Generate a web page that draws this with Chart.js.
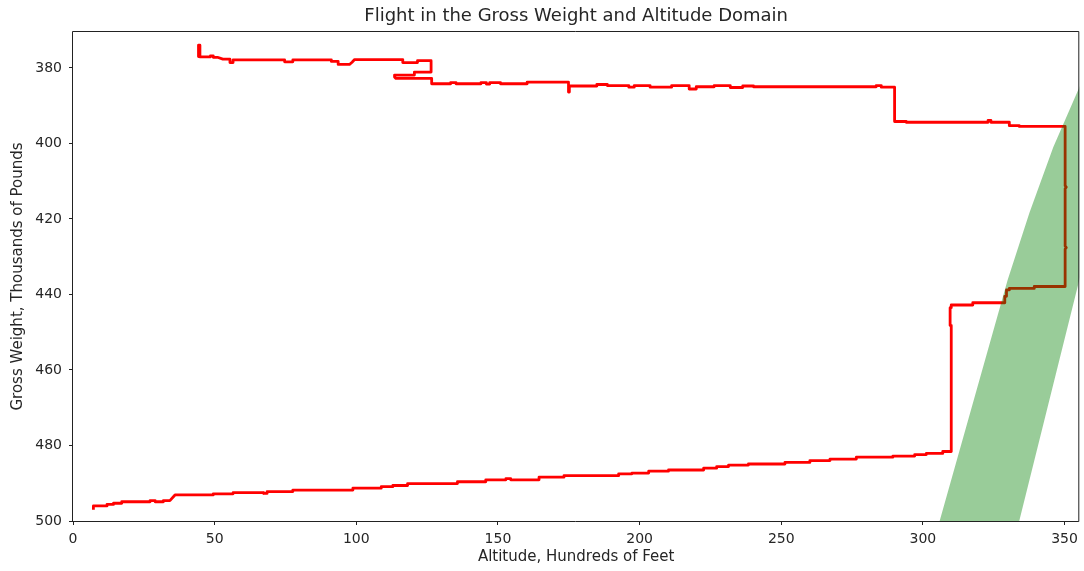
<!DOCTYPE html>
<html>
<head>
<meta charset="utf-8">
<script src="https://cdn.jsdelivr.net/npm/chart.js@4.4.1/dist/chart.umd.min.js"></script>
<style>
  html, body { margin: 0; padding: 0; background: #fff; }
  #wrap { width: 1084px; height: 571px; }
</style>
</head>
<body>
<div id="wrap"><canvas id="flight-chart"></canvas></div>
<script>
// --- Data ---
const xTicks = [0, 50, 100, 150, 200, 250, 300, 350];
const yTicks = [380, 400, 420, 440, 460, 480, 500];

// flight path: altitude (hundreds of feet) and gross weight (thousands of lb)
const pathX = [
  7.2, 7.2, 12.0, 12.0, 14.3, 14.3, 17.2, 17.2, 27.2, 27.2, 29.0, 29.0, 31.9, 31.9, 34.2, 36.0,
  49.5, 49.5, 56.5, 56.5, 67.1, 67.3, 68.5, 68.5, 77.6, 77.6, 98.8, 98.8, 108.8, 108.8, 112.9, 112.9,
  118.1, 118.1, 135.7, 135.7, 145.7, 145.7, 152.8, 152.8, 154.5, 154.5, 164.5, 164.5, 173.3, 173.3,
  192.6, 192.6, 197.3, 197.3, 203.2, 203.2, 210.2, 210.2, 222.6, 222.6, 227.2, 227.2, 231.4, 231.4,
  238.4, 238.4, 251.3, 251.3, 260.1, 260.1, 267.2, 267.2, 276.5, 276.5, 289.4, 289.4, 297.1, 297.1,
  301.2, 301.2, 307.0, 307.0, 310.0,
  310.0, 309.6, 309.6, 310.0, 310.0, 317.6, 317.6, 328.9, 328.9, 329.5, 329.5, 330.5, 330.5, 339.3,
  339.3, 350.2, 350.2, 350.6, 350.2, 350.2, 350.6, 350.2, 350.2,
  334.0, 334.0, 330.5, 330.5, 324.0, 324.0, 323.0, 323.0, 294.1, 294.1, 290.0, 290.0,
  285.3, 285.3, 283.5, 283.5, 240.2, 240.2, 236.4, 236.4, 232.0, 232.0, 226.3, 226.3, 220.0, 220.0,
  217.5, 217.5, 211.3, 211.3, 203.7, 203.7, 198.1, 198.1, 196.2, 196.2, 188.6, 188.6, 184.9, 184.9,
  175.2, 175.2, 174.9, 174.9, 160.3, 160.3, 150.9, 150.9, 147.1, 147.1, 145.9, 145.9, 144.0, 144.0,
  135.2, 135.2, 133.3, 133.3, 126.6, 126.6,
  114.0, 113.5, 113.5, 120.5, 120.5, 126.4, 126.4, 121.6, 121.6, 116.4, 116.4,
  99.4, 98.5, 97.6, 93.6, 93.6, 91.2, 91.2, 77.6, 77.6, 74.7, 74.7, 56.5, 56.5, 55.4, 55.4, 52.9,
  51.0, 49.5, 49.5, 48.5, 48.5, 44.8, 44.8, 44.3, 44.3
];
const pathY = [
  497.0, 496.0, 496.0, 495.6, 495.6, 495.3, 495.3, 494.9, 494.9, 494.6, 494.6, 494.9, 494.9, 494.6, 494.6, 493.1,
  493.1, 492.8, 492.8, 492.5, 492.5, 492.7, 492.7, 492.2, 492.2, 491.8, 491.8, 491.3, 491.3, 490.9, 490.9, 490.6,
  490.6, 490.1, 490.1, 489.6, 489.6, 489.1, 489.1, 488.8, 488.8, 489.1, 489.1, 488.4, 488.4, 488.0,
  488.0, 487.5, 487.5, 487.3, 487.3, 486.8, 486.8, 486.5, 486.5, 486.0, 486.0, 485.6, 485.6, 485.2,
  485.2, 484.9, 484.9, 484.5, 484.5, 484.0, 484.0, 483.6, 483.6, 483.1, 483.1, 482.8, 482.8, 482.4,
  482.4, 482.1, 482.1, 481.6, 481.6,
  448.2, 448.2, 443.5, 443.5, 442.8, 442.8, 442.2, 442.2, 440.5, 440.5, 438.8, 438.8, 438.4, 438.4,
  437.9, 437.9, 428.0, 427.6, 427.2, 412.0, 411.6, 411.2, 395.5,
  395.5, 395.3, 395.3, 394.4, 394.4, 393.9, 393.9, 394.4, 394.4, 394.2, 394.2, 385.1,
  385.1, 384.7, 384.7, 385.0, 385.0, 384.8, 384.8, 385.2, 385.2, 384.7, 384.7, 385.0, 385.0, 385.6,
  385.6, 384.7, 384.7, 385.1, 385.1, 384.7, 384.7, 385.1, 385.1, 384.7, 384.7, 384.4, 384.4, 384.8,
  384.8, 386.4, 386.4, 383.8, 383.8, 384.2, 384.2, 383.9, 383.9, 384.3, 384.3, 383.9, 383.9, 384.2,
  384.2, 383.9, 383.9, 384.2, 384.2, 382.8,
  382.8, 382.4, 381.9, 381.9, 381.1, 381.1, 378.1, 378.1, 378.6, 378.6, 377.8,
  377.8, 378.5, 379.1, 379.1, 378.3, 378.3, 377.9, 377.9, 378.4, 378.4, 377.9, 377.9, 378.6, 378.6, 377.7, 377.7,
  377.2, 377.2, 376.8, 376.8, 377.1, 377.1, 374.0, 374.0, 377.0
];

// green band outline (left edge upward, right edge back down)
const bandX = [302.1, 305.9, 329.9, 337.6, 346.0, 355.3, 362.0, 370.0, 390.0, 362.0, 355.2, 334.0, 330.7];
const bandY = [510.0, 500.0, 436.2, 418.4, 401.0, 385.0, 373.0, 360.0, 360.0, 416.0, 436.2, 500.0, 510.0];

const toPoints = (xs, ys) => xs.map((x, i) => ({ x: x, y: ys[i] }));

const textColor = '#262626';
const axisColor = '#222222';

// plain rectangle around the plot area, like the matplotlib axes frame
const framePlugin = {
  id: 'frame',
  afterDraw(chart) {
    const { ctx, chartArea: a } = chart;
    ctx.save();
    ctx.strokeStyle = axisColor;
    ctx.lineWidth = 1;
    ctx.beginPath();
    ctx.rect(a.left - 0.5, a.top - 0.5, a.right - a.left, a.bottom - a.top + 1);
    ctx.stroke();
    ctx.restore();
  }
};

const ctx = document.getElementById('flight-chart').getContext('2d');
new Chart(ctx, {
  type: 'line',
  data: {
    datasets: [{
      label: 'Envelope',
      data: toPoints(bandX, bandY),
      borderWidth: 0,
      borderColor: 'rgba(0,0,0,0)',
      backgroundColor: 'rgba(0,128,0,0.4)',
      fill: 'shape',
      pointRadius: 0,
      tension: 0
    }, {
      label: 'Flight',
      data: toPoints(pathX, pathY),
      borderColor: '#ff0000',
      borderWidth: 2.8,
      borderJoinStyle: 'round',
      fill: false,
      pointRadius: 0,
      tension: 0
    }]
  },
  options: {
    responsive: true,
    maintainAspectRatio: false,
    animation: false,
    layout: { autoPadding: false, padding: { left: 0, right: 2, top: 0, bottom: 0 } },
    plugins: {
      legend: { display: false },
      tooltip: { enabled: false },
      title: {
        display: true,
        text: 'Flight in the Gross Weight and Altitude Domain',
        color: textColor,
        fullSize: false,
        font: { family: 'DejaVu Sans', size: 18, weight: 'normal' },
        padding: { top: 5.5, bottom: 4.9 }
      }
    },
    scales: {
      x: {
        type: 'linear',
        min: 0,
        max: 355.2,
        afterBuildTicks: scale => { scale.ticks = xTicks.map(v => ({ value: v })); },
        afterFit: scale => { scale.height = 50; },
        border: { display: false },
        grid: { drawOnChartArea: false, drawTicks: true, tickLength: 4, color: axisColor },
        ticks: { color: textColor, padding: 6, font: { family: 'DejaVu Sans', size: 14 } },
        title: {
          display: true,
          text: 'Altitude, Hundreds of Feet',
          color: textColor,
          font: { family: 'DejaVu Sans', size: 15 },
          padding: { top: 0, bottom: 4.5 }
        }
      },
      y: {
        type: 'linear',
        reverse: true,
        min: 370.5,
        max: 500,
        afterBuildTicks: scale => { scale.ticks = yTicks.map(v => ({ value: v })); },
        afterFit: scale => { scale.width = 73; },
        border: { display: false },
        grid: { drawOnChartArea: false, drawTicks: true, tickLength: 4, color: axisColor },
        ticks: { color: textColor, padding: 7, font: { family: 'DejaVu Sans', size: 14 } },
        title: {
          display: true,
          text: 'Gross Weight, Thousands of Pounds',
          color: textColor,
          font: { family: 'DejaVu Sans', size: 15 },
          padding: { top: 9.5, bottom: 0 }
        }
      }
    }
  },
  plugins: [framePlugin]
});
</script>
</body>
</html>
